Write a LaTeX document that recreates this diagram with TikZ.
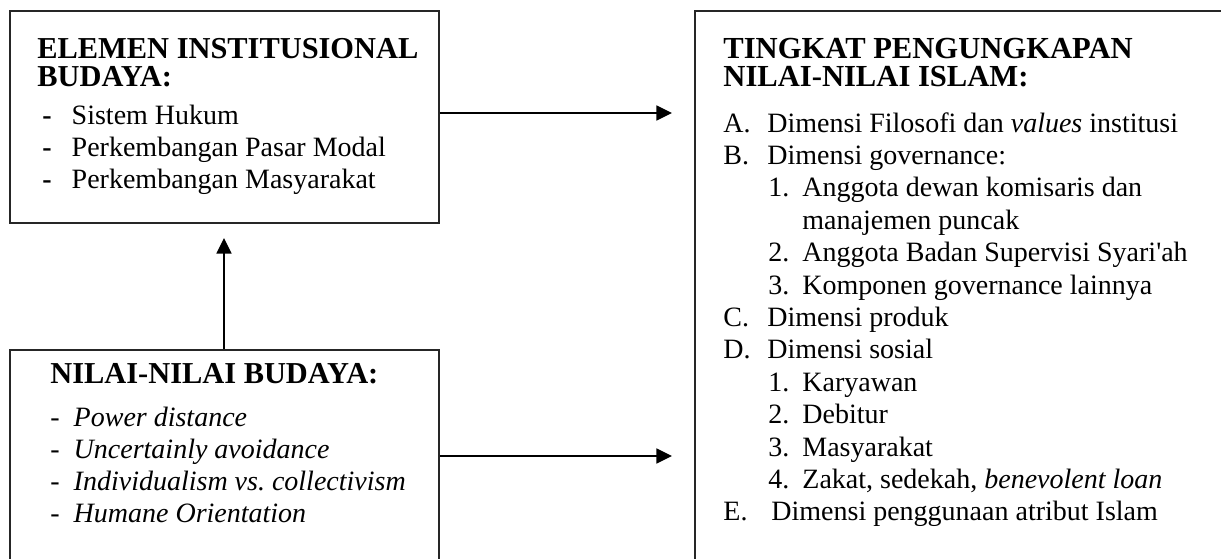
\documentclass[tikz,border=0pt]{standalone}
\usepackage{fontspec}
\setmainfont{Liberation Serif}
\usetikzlibrary{arrows.meta,positioning}

\tikzset{
  box/.style={draw=black!85, line width=0.9pt, inner sep=0pt},
  head/.style={anchor=base west, inner sep=0pt,
    font=\fontsize{15.2}{14}\selectfont\bfseries},
  items/.style={anchor=base west, inner sep=0pt,
    font=\fontsize{14}{16.1}\selectfont},
  link/.style={line width=0.7pt, -{Triangle[length=7.8pt,width=7.5pt]}}
}
\newcommand{\lbl}[1]{\makebox[22pt][l]{#1}}
\newcommand{\sub}[1]{\hspace*{22.5pt}\makebox[17pt][l]{#1}}
\newenvironment{lines}{\begin{tabular}[t]{@{}l@{}}}{\end{tabular}}

\begin{document}
\begin{tikzpicture}[x=0.5pt,y=-0.5pt]
 \useasboundingbox (0,0) rectangle (1221,558);
 \clip (0,0) rectangle (1221,558);
 % boxes
 \node[box, minimum width=214.5pt, minimum height=106pt] (elemen) at (224.5,117) {};
 \node[box, minimum width=214.5pt, minimum height=110pt] (nilai) at (224.5,460) {};
 \node[box, minimum width=267.5pt, minimum height=279.5pt] (tingkat) at (962.5,290.5) {};
 % texts
 \node[head] (elemenhead) at (37,58) {\begin{lines}ELEMEN INSTITUSIONAL\\BUDAYA:\end{lines}};
 \node[items] (elemenlist) at (42,124) {\begin{lines}
   \textbf{-}\hspace{10pt}Sistem Hukum\\
   \textbf{-}\hspace{10pt}Perkembangan Pasar Modal\\
   \textbf{-}\hspace{10pt}Perkembangan Masyarakat\end{lines}};
 \node[head] (nilaihead) at (50,383) {NILAI-NILAI BUDAYA:};
 \node[items] (nilailist) at (50,426) {\begin{lines}
   -\hspace{7pt}\textit{Power distance}\\
   -\hspace{7pt}\textit{Uncertainly avoidance}\\
   -\hspace{7pt}\textit{Individualism vs.\ collectivism}\\
   -\hspace{7pt}\textit{Humane Orientation}\end{lines}};
 \node[head, font=\fontsize{15.3}{13.5}\selectfont\bfseries] (tingkathead) at (723,58)
   {\begin{lines}TINGKAT PENGUNGKAPAN\\NILAI-NILAI ISLAM:\end{lines}};
 \node[items, font=\fontsize{14}{16.2}\selectfont] (tingkatlist) at (723,132) {\begin{lines}
   \lbl{A.}Dimensi Filosofi dan \textit{values} institusi\\
   \lbl{B.}Dimensi governance:\\
   \sub{1.}Anggota dewan komisaris dan\\
   \hspace*{39.5pt}manajemen puncak\\
   \sub{2.}Anggota Badan Supervisi Syari\textquotesingle ah\\
   \sub{3.}Komponen governance lainnya\\
   \lbl{C.}Dimensi produk\\
   \lbl{D.}Dimensi sosial\\
   \sub{1.}Karyawan\\
   \sub{2.}Debitur\\
   \sub{3.}Masyarakat\\
   \sub{4.}Zakat, sedekah, \textit{benevolent loan}\\
   \makebox[24pt][l]{E.}Dimensi penggunaan atribut Islam\end{lines}};
 % connectors
 \coordinate (topend) at (672,113);
 \coordinate (lowend) at (672,456);
 \coordinate (upend) at (224,238);
 \draw[link] (elemen.east |- topend) -- (topend);
 \draw[link] (nilai.east |- lowend) -- (lowend);
 \draw[link] (nilai.north -| upend) -- (upend);
\end{tikzpicture}
\end{document}
